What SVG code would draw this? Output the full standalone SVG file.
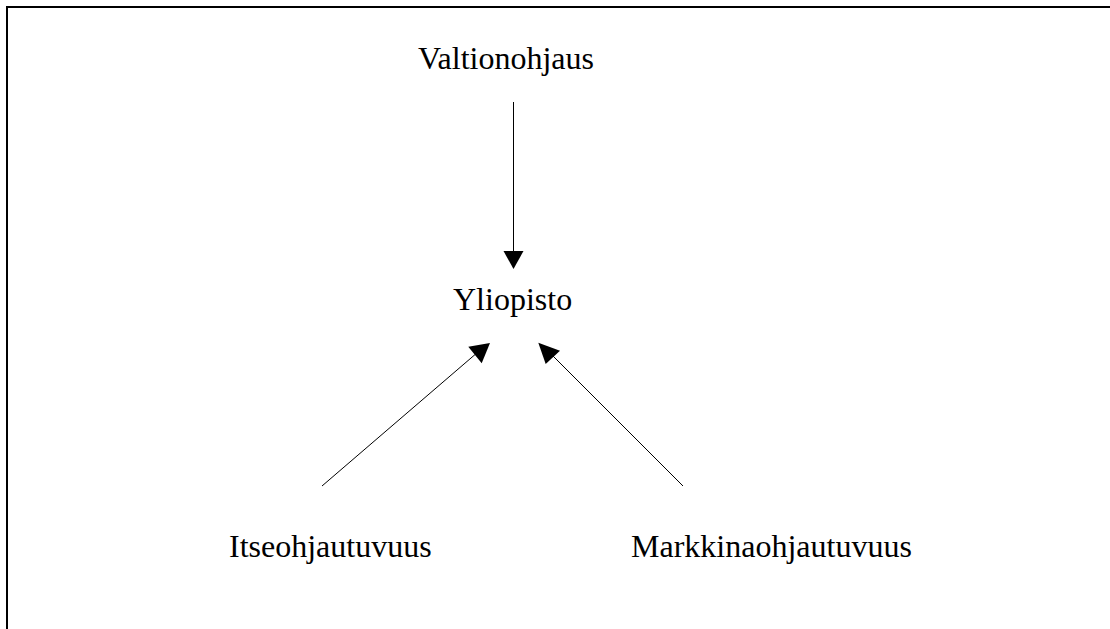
<svg xmlns="http://www.w3.org/2000/svg" width="1110" height="629" viewBox="0 0 1110 629">
<style>
  .lbl { font-family: "Liberation Serif", "Times New Roman", serif; font-size: 32px; fill: #000; }
  .conn { stroke: #000; stroke-width: 1; fill: none; }
  .head { fill: #000; stroke: none; }
</style>
<rect x="0" y="0" width="1110" height="629" fill="#fff"/>
<path d="M7 629 V7 H1110" fill="none" stroke="#000" stroke-width="2"/>
<g id="connectors">
  <line class="conn" x1="513.5" y1="102" x2="513.5" y2="252"/>
  <polygon class="head" points="503.5,251 523.5,251 513.5,269"/>
  <line class="conn" x1="322" y1="486" x2="478" y2="352"/>
  <polygon class="head" points="490,343 468.3,346.7 481.7,363.3"/>
  <line class="conn" x1="683" y1="486" x2="552" y2="355"/>
  <polygon class="head" points="538.3,342.7 560,350.7 545.7,364"/>
</g>
<g id="node-valtionohjaus"><text class="lbl" x="418" y="69">Valtionohjaus</text></g>
<g id="node-yliopisto"><text class="lbl" x="453" y="310">Yliopisto</text></g>
<g id="node-itseohjautuvuus"><text class="lbl" x="229" y="557">Itseohjautuvuus</text></g>
<g id="node-markkinaohjautuvuus"><text class="lbl" x="631" y="557">Markkinaohjautuvuus</text></g>
</svg>
